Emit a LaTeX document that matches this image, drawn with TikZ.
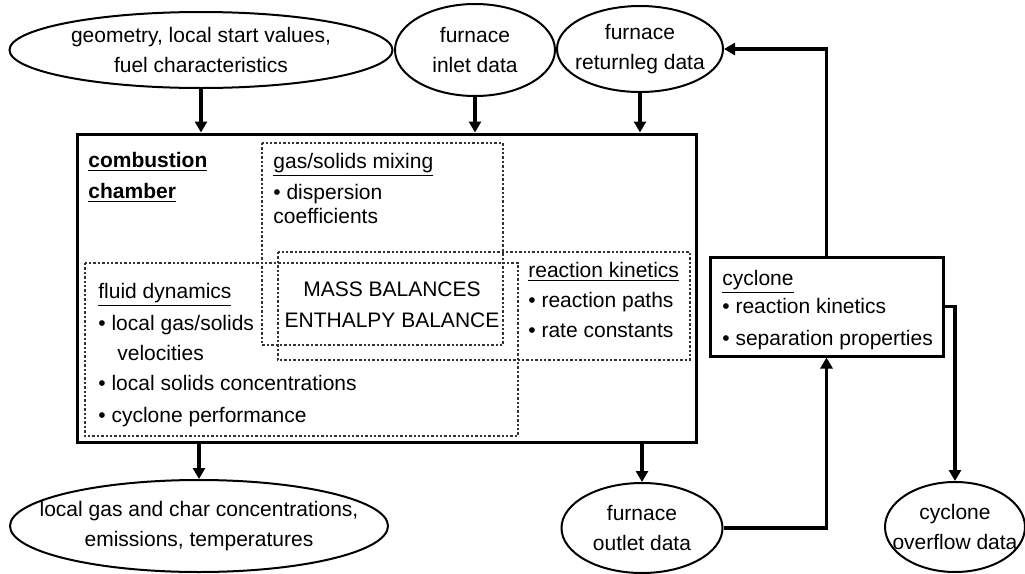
\documentclass[tikz,border=0pt]{standalone}
\usepackage{fontspec}
\setmainfont{Liberation Sans}
\usetikzlibrary{shapes.geometric,arrows.meta}

\newcommand{\bul}{\textbullet\ }
\newcommand{\ctr}[1]{\makebox[0pt]{#1}}

\begin{document}
\begin{tikzpicture}[x=0.5pt, y=-0.5pt,
    font=\fontsize{10.5}{15}\selectfont,
    data/.style={draw, ellipse, line width=1pt, align=center, inner sep=0},
    frame/.style={draw, line width=1.5pt, inner sep=0},
    zone/.style={draw=black!80, densely dotted, line width=1.2pt},
    txt/.style={anchor=base west, inner sep=0},
    flow/.style={line width=1.6pt, -{Triangle[length=5.5pt, width=6pt]}}]
      \useasboundingbox (0,0) rectangle (1025,574);

      \node[data, minimum width=191.5pt, minimum height=38pt] (geom) at (201,50)
        {\ctr{geometry, local start values,}\\ \ctr{fuel characteristics}};
      \node[data, minimum width=80pt, minimum height=46pt] (inlet) at (475,50)
        {\ctr{furnace}\\ \ctr{inlet data}};
      \node[data, minimum width=83pt, minimum height=43pt] (returnleg) at (640,49)
        {\ctr{furnace}\\ \ctr{returnleg data}};

      \node[frame, minimum width=309.5pt, minimum height=154pt] (chamber) at (386.5,288) {};
      \node[frame, minimum width=116.5pt, minimum height=49.5pt] (cyclone) at (826.5,306.5) {};

      \node[data, minimum width=189pt, minimum height=46pt] (result) at (199,526)
        {\ctr{local gas and char concentrations,}\\ \ctr{emissions, temperatures}};
      \node[data, minimum width=80.5pt, minimum height=45pt] (outlet) at (642,528)
        {\ctr{furnace}\\ \ctr{outlet data}};
      \node[data, minimum width=70pt, minimum height=45pt] (overflow) at (955,527)
        {\ctr{cyclone}\\ \ctr{overflow data}};

      \draw[zone] (262,143) rectangle (503,345);
      \draw[zone] (85,263) rectangle (518,436);
      \draw[zone] (278,252) rectangle (690,360);

      \node[txt] (title) at (88,167) {\textbf{\underline{combustion}}};
      \node[txt] (title2) at (88,198) {\textbf{\underline{chamber}}};

      \node[txt] (mixing) at (273,168) {\underline{gas/solids mixing}};
      \node[txt] (mix1) at (273,199) {\bul dispersion};
      \node[txt] (mix2) at (273,223) {coefficients};

      \node[txt] (fluid) at (98,298) {\underline{fluid dynamics}};
      \node[txt] (fluid1) at (98,330) {\bul local gas/solids};
      \node[txt] (fluid2) at (117,360) {velocities};
      \node[txt] (fluid3) at (98,390) {\bul local solids concentrations};
      \node[txt] (fluid4) at (98,422) {\bul cyclone performance};

      \node[anchor=base, inner sep=0] (mass) at (392,296) {MASS BALANCES};
      \node[anchor=base, inner sep=0] (enthalpy) at (392,327) {ENTHALPY BALANCE};

      \node[txt] (kinetics) at (528,277) {\underline{reaction kinetics}};
      \node[txt] (kin1) at (528,307) {\bul reaction paths};
      \node[txt] (kin2) at (528,337) {\bul rate constants};

      \node[txt] (cyc) at (722,285) {\underline{cyclone}};
      \node[txt] (cyc1) at (722,313) {\bul reaction kinetics};
      \node[txt] (cyc2) at (722,345) {\bul separation properties};

      \draw[flow] (geom) -- (geom |- chamber.north);
      \draw[flow] (inlet) -- (inlet |- chamber.north);
      \draw[flow] (returnleg) -- (returnleg |- chamber.north);
      \draw[flow] (chamber.south -| result) -- (result);
      \draw[flow] (chamber.south -| outlet) -- (outlet);
      \draw[flow] (outlet.east) -| (cyclone.south);
      \draw[flow] (cyclone.north) |- (returnleg.east);
      \draw[flow] (cyclone.east) -| (overflow);

    \end{tikzpicture}
\end{document}
